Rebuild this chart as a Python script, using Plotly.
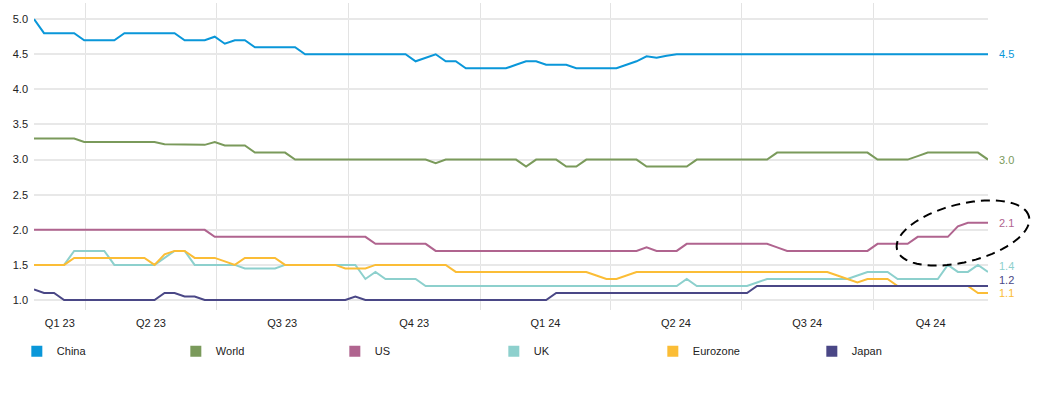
import numpy as np
import pandas as pd
import plotly.graph_objects as go

# ---------------- data ----------------
week_dates = pd.date_range("2023-02-24", "2024-12-20", freq="W-FRI")

china = [5.0, 4.8, 4.8, 4.8, 4.8, 4.7, 4.7, 4.7, 4.7, 4.8, 4.8, 4.8,
         4.8, 4.8, 4.8, 4.7, 4.7, 4.7, 4.75, 4.65, 4.7, 4.7, 4.6, 4.6,
         4.6, 4.6, 4.6, 4.5, 4.5, 4.5, 4.5, 4.5, 4.5, 4.5, 4.5, 4.5,
         4.5, 4.5, 4.4, 4.45, 4.5, 4.4, 4.4, 4.3, 4.3, 4.3, 4.3, 4.3,
         4.35, 4.4, 4.4, 4.35, 4.35, 4.35, 4.3, 4.3, 4.3, 4.3, 4.3, 4.35,
         4.4, 4.47, 4.45, 4.48, 4.5, 4.5, 4.5, 4.5, 4.5, 4.5, 4.5, 4.5,
         4.5, 4.5, 4.5, 4.5, 4.5, 4.5, 4.5, 4.5, 4.5, 4.5, 4.5, 4.5,
         4.5, 4.5, 4.5, 4.5, 4.5, 4.5, 4.5, 4.5, 4.5, 4.5, 4.5, 4.5]

world = [3.3, 3.3, 3.3, 3.3, 3.3, 3.25, 3.25, 3.25, 3.25, 3.25, 3.25, 3.25,
         3.25, 3.22, 3.22, 3.22, 3.22, 3.21, 3.25, 3.2, 3.2, 3.2, 3.1, 3.1,
         3.1, 3.1, 3.0, 3.0, 3.0, 3.0, 3.0, 3.0, 3.0, 3.0, 3.0, 3.0,
         3.0, 3.0, 3.0, 3.0, 2.95, 3.0, 3.0, 3.0, 3.0, 3.0, 3.0, 3.0,
         3.0, 2.9, 3.0, 3.0, 3.0, 2.9, 2.9, 3.0, 3.0, 3.0, 3.0, 3.0,
         3.0, 2.9, 2.9, 2.9, 2.9, 2.9, 3.0, 3.0, 3.0, 3.0, 3.0, 3.0,
         3.0, 3.0, 3.1, 3.1, 3.1, 3.1, 3.1, 3.1, 3.1, 3.1, 3.1, 3.1,
         3.0, 3.0, 3.0, 3.0, 3.05, 3.1, 3.1, 3.1, 3.1, 3.1, 3.1, 3.0]

us = [2.0, 2.0, 2.0, 2.0, 2.0, 2.0, 2.0, 2.0, 2.0, 2.0, 2.0, 2.0,
      2.0, 2.0, 2.0, 2.0, 2.0, 2.0, 1.9, 1.9, 1.9, 1.9, 1.9, 1.9,
      1.9, 1.9, 1.9, 1.9, 1.9, 1.9, 1.9, 1.9, 1.9, 1.9, 1.8, 1.8,
      1.8, 1.8, 1.8, 1.8, 1.7, 1.7, 1.7, 1.7, 1.7, 1.7, 1.7, 1.7,
      1.7, 1.7, 1.7, 1.7, 1.7, 1.7, 1.7, 1.7, 1.7, 1.7, 1.7, 1.7,
      1.7, 1.75, 1.7, 1.7, 1.7, 1.8, 1.8, 1.8, 1.8, 1.8, 1.8, 1.8,
      1.8, 1.8, 1.75, 1.7, 1.7, 1.7, 1.7, 1.7, 1.7, 1.7, 1.7, 1.7,
      1.8, 1.8, 1.8, 1.8, 1.9, 1.9, 1.9, 1.9, 2.05, 2.1, 2.1, 2.1]

uk = [1.5, 1.5, 1.5, 1.5, 1.7, 1.7, 1.7, 1.7, 1.5, 1.5, 1.5, 1.5,
      1.5, 1.6, 1.7, 1.7, 1.5, 1.5, 1.5, 1.5, 1.5, 1.45, 1.45, 1.45,
      1.45, 1.5, 1.5, 1.5, 1.5, 1.5, 1.5, 1.5, 1.5, 1.3, 1.4, 1.3,
      1.3, 1.3, 1.3, 1.2, 1.2, 1.2, 1.2, 1.2, 1.2, 1.2, 1.2, 1.2,
      1.2, 1.2, 1.2, 1.2, 1.2, 1.2, 1.2, 1.2, 1.2, 1.2, 1.2, 1.2,
      1.2, 1.2, 1.2, 1.2, 1.2, 1.3, 1.2, 1.2, 1.2, 1.2, 1.2, 1.2,
      1.25, 1.3, 1.3, 1.3, 1.3, 1.3, 1.3, 1.3, 1.3, 1.3, 1.35, 1.4,
      1.4, 1.4, 1.3, 1.3, 1.3, 1.3, 1.3, 1.5, 1.4, 1.4, 1.5, 1.4]

eurozone = [1.5, 1.5, 1.5, 1.5, 1.6, 1.6, 1.6, 1.6, 1.6, 1.6, 1.6, 1.6,
            1.5, 1.65, 1.7, 1.7, 1.6, 1.6, 1.6, 1.55, 1.5, 1.6, 1.6, 1.6,
            1.6, 1.5, 1.5, 1.5, 1.5, 1.5, 1.5, 1.45, 1.45, 1.45, 1.5, 1.5,
            1.5, 1.5, 1.5, 1.5, 1.5, 1.5, 1.4, 1.4, 1.4, 1.4, 1.4, 1.4,
            1.4, 1.4, 1.4, 1.4, 1.4, 1.4, 1.4, 1.4, 1.35, 1.3, 1.3, 1.35,
            1.4, 1.4, 1.4, 1.4, 1.4, 1.4, 1.4, 1.4, 1.4, 1.4, 1.4, 1.4,
            1.4, 1.4, 1.4, 1.4, 1.4, 1.4, 1.4, 1.4, 1.35, 1.3, 1.25, 1.3,
            1.3, 1.3, 1.2, 1.2, 1.2, 1.2, 1.2, 1.2, 1.2, 1.2, 1.1, 1.1]

japan = [1.15, 1.1, 1.1, 1.0, 1.0, 1.0, 1.0, 1.0, 1.0, 1.0, 1.0, 1.0,
         1.0, 1.1, 1.1, 1.05, 1.05, 1.0, 1.0, 1.0, 1.0, 1.0, 1.0, 1.0,
         1.0, 1.0, 1.0, 1.0, 1.0, 1.0, 1.0, 1.0, 1.05, 1.0, 1.0, 1.0,
         1.0, 1.0, 1.0, 1.0, 1.0, 1.0, 1.0, 1.0, 1.0, 1.0, 1.0, 1.0,
         1.0, 1.0, 1.0, 1.0, 1.1, 1.1, 1.1, 1.1, 1.1, 1.1, 1.1, 1.1,
         1.1, 1.1, 1.1, 1.1, 1.1, 1.1, 1.1, 1.1, 1.1, 1.1, 1.1, 1.1,
         1.2, 1.2, 1.2, 1.2, 1.2, 1.2, 1.2, 1.2, 1.2, 1.2, 1.2, 1.2,
         1.2, 1.2, 1.2, 1.2, 1.2, 1.2, 1.2, 1.2, 1.2, 1.2, 1.2, 1.2]

series_names = ["China", "World", "US", "UK", "Eurozone", "Japan"]
quarter_starts = ["2023-04-01", "2023-07-01", "2023-10-01", "2024-01-01",
                  "2024-04-01", "2024-07-01", "2024-10-01"]
quarter_labels = ["Q1 23", "Q2 23", "Q3 23", "Q4 23", "Q1 24", "Q2 24", "Q3 24", "Q4 24"]

# ---------------- style ----------------
colors = {"China": "#0a97d9", "World": "#7a9a5b", "US": "#b0648f",
          "UK": "#8dd0cd", "Eurozone": "#fbbd36", "Japan": "#4a4786"}
label_shift = {"China": 0, "World": 0, "US": 0, "UK": 6, "Eurozone": 0, "Japan": 6}
values = {"China": china, "World": world, "US": us, "UK": uk,
          "Eurozone": eurozone, "Japan": japan}

W, H = 1045, 395
ML, MR, MT, MB = 34, 57, 3, 85
PW, PH = W - ML - MR, H - MT - MB

fig = go.Figure()
for name in series_names:
    fig.add_trace(go.Scatter(x=week_dates, y=values[name], mode="lines",
                             line=dict(color=colors[name], width=2),
                             showlegend=False, hoverinfo="skip"))
for name in series_names:
    fig.add_trace(go.Scatter(x=[None], y=[None], mode="markers", name=name,
                             marker=dict(symbol="square", size=11, color=colors[name])))

# quarter label positions: centre of each visible quarter segment
edges = [week_dates[0]] + [pd.Timestamp(q) for q in quarter_starts] + [week_dates[-1]]
label_pos = [edges[k] + (edges[k + 1] - edges[k]) / 2 for k in range(len(edges) - 1)]

fig.update_xaxes(range=[week_dates[0], week_dates[-1]], tickmode="array",
                 tickvals=label_pos, ticktext=quarter_labels, showgrid=False,
                 ticks="", zeroline=False, showline=False, ticklabelstandoff=5,
                 tickfont=dict(size=11, color="#222"),
                 minor=dict(tickvals=[pd.Timestamp(q) for q in quarter_starts],
                            showgrid=True, gridcolor="#e3e3e3", gridwidth=1, ticks=""))
fig.update_yaxes(range=[0.858, 5.23], tick0=1.0, dtick=0.5, tickformat=".1f",
                 showgrid=True, gridcolor="#e8e8e8", gridwidth=1.5, zeroline=False,
                 ticks="", ticklabelstandoff=5, tickfont=dict(size=11, color="#222"))

# end-value labels
for name in series_names:
    v = values[name][-1]
    fig.add_annotation(x=week_dates[-1], y=v, text=f"{v:.1f}", showarrow=False,
                       xanchor="left", xshift=9, yshift=label_shift[name],
                       font=dict(size=11, color=colors[name]))

# dashed ellipse highlight (pixel geometry -> paper coords)
cx, cy, a, b, phi = 963, 233, 68, 29, np.deg2rad(14)
t = np.linspace(0, 2 * np.pi, 73)
ex = cx + a * np.cos(t) * np.cos(phi) - b * np.sin(t) * np.sin(phi)
ey = cy - (a * np.cos(t) * np.sin(phi) + b * np.sin(t) * np.cos(phi))
px = (ex - ML) / PW
py = (H - MB - ey) / PH
path = "M " + " L ".join(f"{u:.5f},{w:.5f}" for u, w in zip(px, py)) + " Z"
fig.add_shape(type="path", path=path, xref="paper", yref="paper",
              line=dict(color="black", width=2, dash="9px,6px"))

fig.update_layout(
    width=W, height=H, margin=dict(l=ML, r=MR, t=MT, b=MB),
    plot_bgcolor="white", paper_bgcolor="white",
    font=dict(family="Arial, Liberation Sans, sans-serif", size=11, color="#222"),
    legend=dict(orientation="h", x=-0.018, xanchor="left", y=-0.134, yanchor="middle",
                entrywidth=114, entrywidthmode="pixels", itemwidth=30,
                font=dict(size=11, color="#222"), bgcolor="rgba(0,0,0,0)"),
)

fig.write_html("out.html", config={"displayModeBar": False},
               post_script="document.body.style.margin='0';")
